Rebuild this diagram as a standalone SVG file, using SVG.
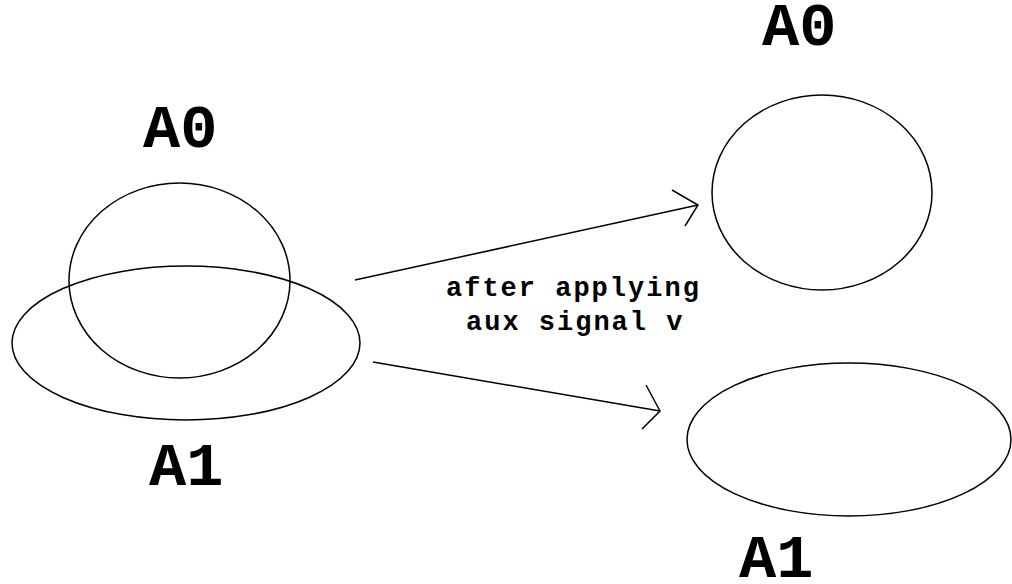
<svg xmlns="http://www.w3.org/2000/svg" width="1012" height="584" viewBox="0 0 1012 584">
<style>
.shape{fill:none;stroke:#000;stroke-width:1.5}
.big{font-family:"Liberation Mono","Courier New",monospace;font-weight:bold;font-size:62px;fill:#000}
.small{font-family:"Liberation Mono","Courier New",monospace;font-weight:bold;font-size:27px;fill:#000;letter-spacing:2px}
.conn{fill:none;stroke:#000;stroke-width:1.5}
</style>
<rect width="1012" height="584" fill="#fff"/>
<g id="A0-left">
<ellipse class="shape" cx="179.5" cy="280.5" rx="110.5" ry="97.5"/>
<text class="big" x="143" y="147">A0</text>
</g>
<g id="A1-left">
<ellipse class="shape" cx="186" cy="343" rx="174" ry="77"/>
<text class="big" x="149" y="485">A1</text>
</g>
<g id="A0-right">
<ellipse class="shape" cx="822" cy="192.5" rx="110" ry="97.5"/>
<text class="big" x="762" y="45">A0</text>
</g>
<g id="A1-right">
<ellipse class="shape" cx="849" cy="439.5" rx="162" ry="76.5"/>
<text class="big" x="739" y="577">A1</text>
</g>
<g id="connectors">
<path class="conn" d="M355,280 L698,205 M672,190 L698,205 L685,226"/>
<path class="conn" d="M373,362 L660,411 M646,385 L660,411 L642,429"/>
<text class="small" x="446" y="296">after applying</text>
<text class="small" x="466" y="330">aux signal v</text>
</g>
</svg>
